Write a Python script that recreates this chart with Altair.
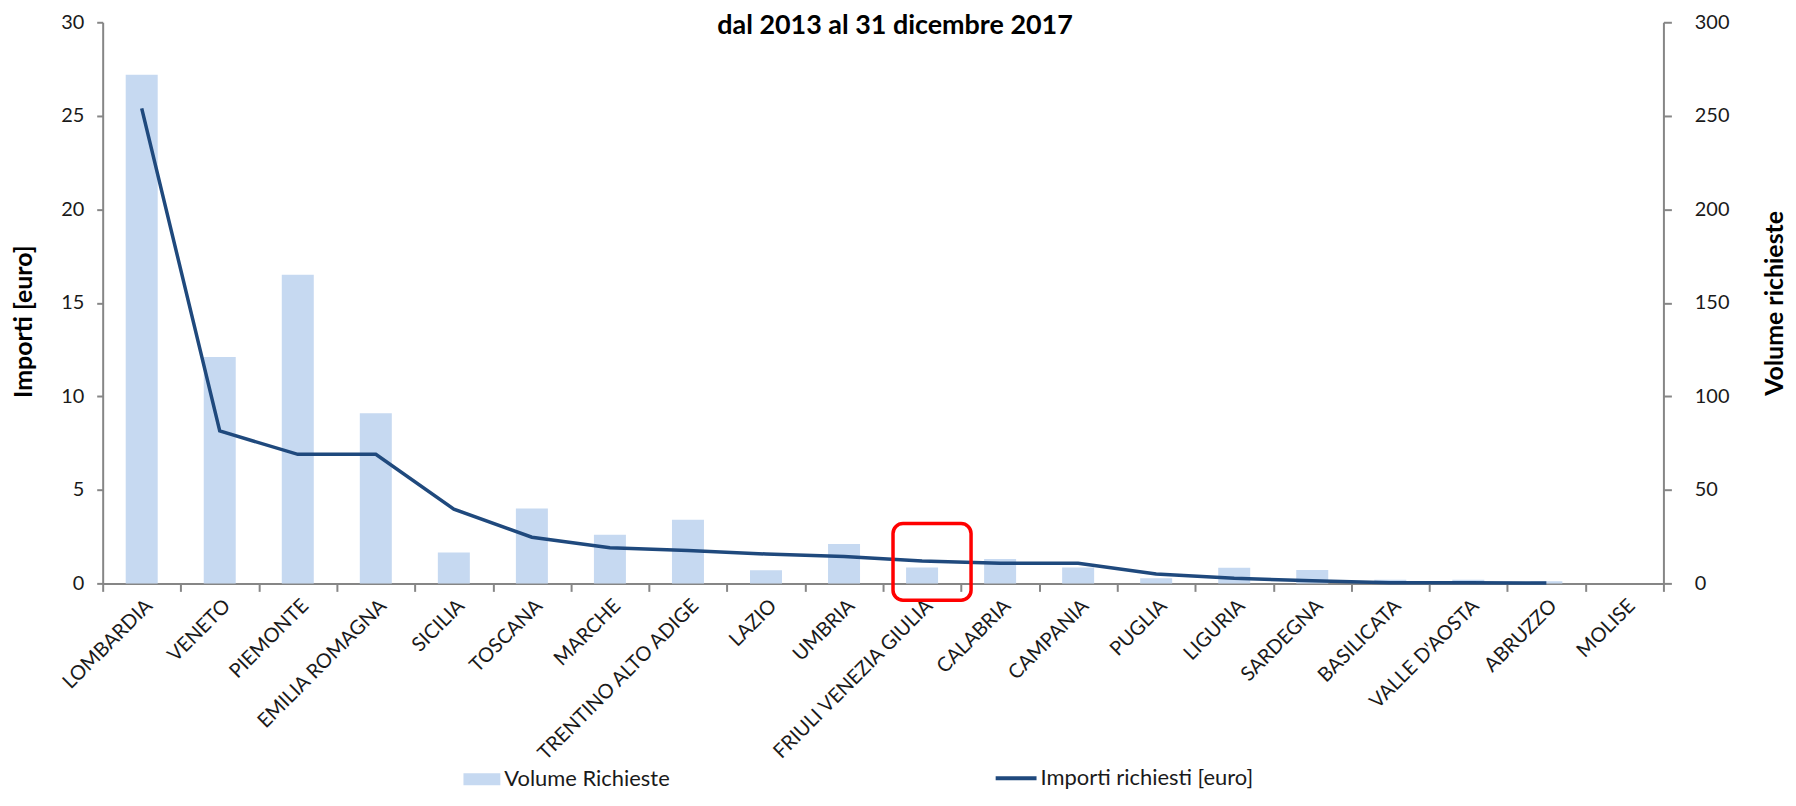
import altair as alt
import pandas as pd

regions = ["LOMBARDIA", "VENETO", "PIEMONTE", "EMILIA ROMAGNA", "SICILIA", "TOSCANA",
           "MARCHE", "TRENTINO ALTO ADIGE", "LAZIO", "UMBRIA", "FRIULI VENEZIA GIULIA",
           "CALABRIA", "CAMPANIA", "PUGLIA", "LIGURIA", "SARDEGNA", "BASILICATA",
           "VALLE D'AOSTA", "ABRUZZO", "MOLISE"]
volume = [272, 121, 165, 91, 16.5, 40, 26, 34, 7, 21, 8.5, 13, 8.5, 2.7, 8.3, 7.2, 2, 2, 1.1, 0]
importi = [25.4, 8.15, 6.9, 6.9, 3.97, 2.47, 1.9, 1.76, 1.57, 1.44, 1.2, 1.08, 1.08, 0.5,
           0.27, 0.14, 0.04, 0.03, 0.02, None]
left_ticks = [0, 5, 10, 15, 20, 25, 30]
right_ticks = [0, 50, 100, 150, 200, 250, 300]
title_text = "dal 2013  al 31 dicembre 2017"
bar_series = "Volume Richieste"
line_series = "Importi richiesti [euro]"
highlight_region = ["FRIULI VENEZIA GIULIA"]
highlight_top = [3.2]
highlight_bottom = [-0.9]

df = pd.DataFrame({"regione": regions, "volume": volume, "importi": importi})
df["s_bar"] = bar_series
df["s_line"] = line_series
hl = pd.DataFrame({"regione": highlight_region, "top": highlight_top, "bottom": highlight_bottom})

FONT = "Lato"
AX = "#868686"
TXT = "#1a1a1a"

x_enc = alt.X(
    "regione:N", sort=regions,
    scale=alt.Scale(domain=regions, paddingInner=0, paddingOuter=0),
    axis=alt.Axis(title=None, labelAngle=-45, labelAlign="right", labelBaseline="top",
                  labelFont=FONT, labelFontSize=20, labelColor=TXT, labelPadding=4,
                  labelLimit=400, labelOverlap=False, tickBand="extent", tickSize=8,
                  tickColor=AX, tickWidth=2, domainColor=AX, domainWidth=2, grid=False),
)

left_axis = alt.Axis(orient="left", values=left_ticks, title="Importi [euro]",
                     titleFont=FONT, titleFontSize=25, titleFontWeight="bold",
                     titleColor="black", titlePadding=24, titleY=300, labelFont=FONT,
                     labelFontSize=20, labelColor=TXT, labelPadding=13, tickSize=6,
                     tickColor=AX, tickWidth=2, domainColor=AX, domainWidth=2,
                     grid=False)
left_scale = alt.Scale(domain=[0, 30], nice=False)

bars = alt.Chart(df).mark_bar(width=alt.RelativeBandSize(0.41)).encode(
    x=x_enc,
    y=alt.Y("volume:Q", scale=alt.Scale(domain=[0, 300], nice=False),
            axis=alt.Axis(orient="right", values=right_ticks, title="Volume richieste",
                          titleAngle=270, titleBaseline="top", titleFont=FONT,
                          titleFontSize=25, titleFontWeight="bold", titleColor="black",
                          titlePadding=34, labelFont=FONT, labelFontSize=20, labelColor=TXT,
                          labelPadding=23, tickSize=8, tickColor=AX, tickWidth=2,
                          domainColor=AX, domainWidth=2, grid=False)),
    fill=alt.Fill("s_bar:N", scale=alt.Scale(domain=[bar_series], range=["#C6D9F1"]),
                  legend=alt.Legend(title=None, orient="none", legendX=362, legendY=741,
                                    symbolType="M-1,-0.33H1V0.33H-1Z", symbolSize=1369,
                                    symbolStrokeWidth=0, labelFont=FONT, labelFontSize=22,
                                    labelColor=TXT, labelOffset=4, labelLimit=500,
                                    padding=0)),
)

line = alt.Chart(df).mark_line(strokeWidth=3.5).encode(
    x=x_enc,
    y=alt.Y("importi:Q", scale=left_scale, axis=left_axis),
    stroke=alt.Stroke("s_line:N", scale=alt.Scale(domain=[line_series], range=["#1F497D"]),
                      legend=alt.Legend(title=None, orient="none", legendX=894, legendY=736,
                                        symbolType="stroke", symbolSize=1681,
                                        symbolStrokeWidth=4, labelFont=FONT,
                                        labelFontSize=22, labelColor=TXT, labelOffset=2,
                                        labelLimit=500, padding=0)),
)

box = alt.Chart(hl).mark_rect(filled=False, stroke="#FF0000", strokeWidth=3.5,
                              cornerRadius=10, xOffset=10).encode(
    x=x_enc,
    y=alt.Y("top:Q", scale=left_scale, axis=left_axis),
    y2="bottom:Q",
)

chart = alt.layer(bars, alt.layer(line, box)).resolve_scale(y="independent").properties(
    width=1566, height=563,
    background="white",
    autosize=alt.AutoSizeParams(type="none"),
    padding={"left": 95, "top": 13, "right": 125, "bottom": 210},
    title=alt.TitleParams(text=title_text, font=FONT, fontSize=27, fontWeight="bold",
                          color="black", anchor="middle", baseline="alphabetic",
                          offset=-49, dx=12),
).configure_view(stroke=None)

chart.save("out.html", embed_options={"renderer": "svg", "actions": False})
